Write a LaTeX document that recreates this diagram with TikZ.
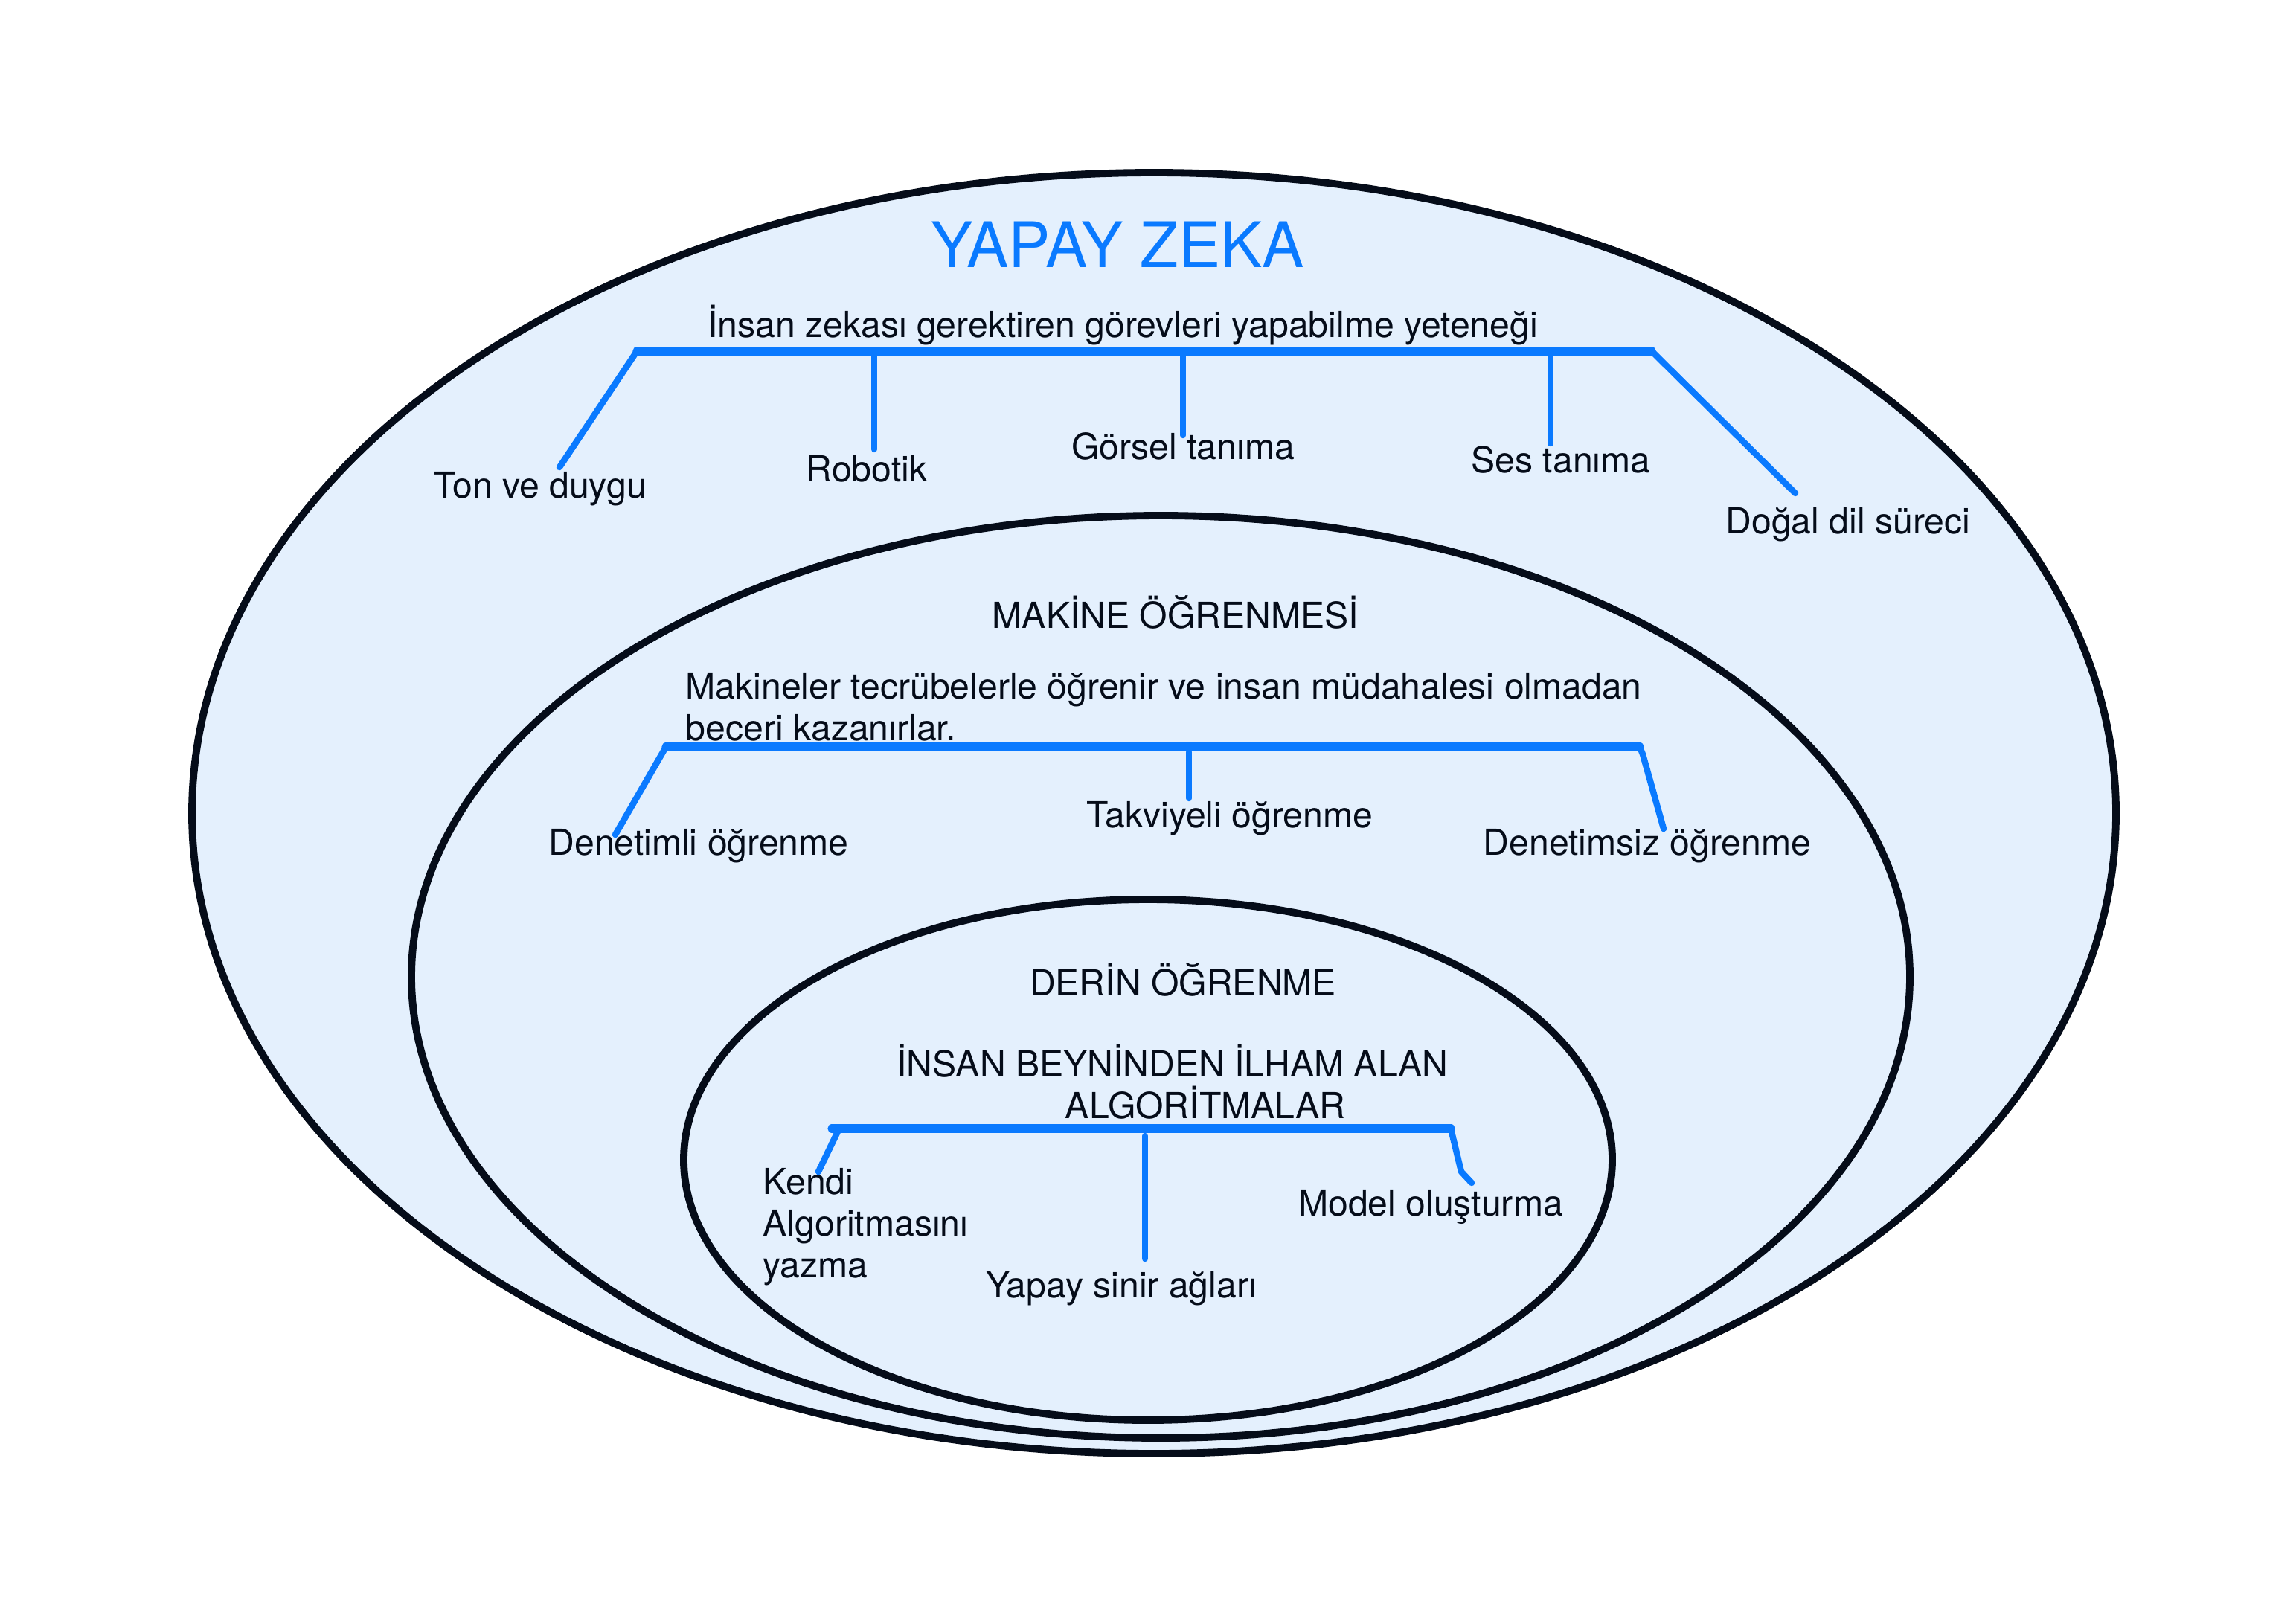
\documentclass[tikz,border=0pt]{standalone}
\usepackage{fontspec}
\setmainfont{TeX Gyre Heros}
\definecolor{zekablue}{RGB}{10,122,255}
\definecolor{zekafill}{RGB}{228,240,253}
\definecolor{zekaline}{RGB}{5,12,25}

\begin{document}
\begin{tikzpicture}[line cap=round,line join=round,
    area/.style={draw=zekaline,fill=zekafill,line width=2.8pt},
    bar/.style={draw=zekablue,line width=3.2pt},
    branch/.style={draw=zekablue,line width=2.4pt},
    label node/.style={font=\fontsize{13.7}{16}\selectfont,text=zekaline,inner sep=0pt},
    title node/.style={font=\fontsize{24}{28}\selectfont,text=zekablue,inner sep=0pt}]
                \useasboundingbox (0,0) rectangle (30.86,-21.82);

                % nested areas
                \path[area] (15.51,-10.93) ellipse [x radius=12.93cm, y radius=8.61cm];
                \path[area] (15.60,-13.13) ellipse [x radius=10.07cm, y radius=6.20cm];
                \path[area] (15.43,-15.59) ellipse [x radius=6.24cm, y radius=3.50cm];

                % yapay zeka
                \node[title node] (yz) at (15.02,-3.29) {YAPAY ZEKA};
                \node[label node] (yzdef) at (15.09,-4.37) {İnsan zekası gerektiren görevleri yapabilme yeteneği};
                \node[label node] (ton) at (7.26,-6.57) {Ton ve duygu};
                \node[label node] (robotik) at (11.65,-6.30) {Robotik};
                \node[label node] (gorsel) at (15.90,-6.00) {Görsel tanıma};
                \node[label node] (ses) at (20.98,-6.18) {Ses tanıma};
                \node[label node] (dogal) at (24.84,-7.05) {Doğal dil süreci};

                \coordinate (yzL) at (8.56,-4.72);
                \coordinate (yzR) at (22.20,-4.72);
                \coordinate (yzRob) at (11.75,-4.72);
                \coordinate (yzGor) at (15.90,-4.72);
                \coordinate (yzSes) at (20.84,-4.72);
                \coordinate (tonEnd) at (7.52,-6.28);
                \coordinate (robEnd) at (11.75,-6.04);
                \coordinate (gorEnd) at (15.90,-5.85);
                \coordinate (sesEnd) at (20.84,-5.96);
                \coordinate (dogEnd) at (24.13,-6.63);

                \draw[bar] (yzL) -- (yzR);
                \path[branch]
                    (yzL) edge (tonEnd)
                    (yzRob) edge (robEnd)
                    (yzGor) edge (gorEnd)
                    (yzSes) edge (sesEnd)
                    (yzR) edge (dogEnd)
                ;

                % makine ogrenmesi
                \node[label node] (mo) at (15.80,-8.23) {MAKİNE ÖĞRENMESİ};
                \node[label node,anchor=west,align=left] (modef) at (9.21,-9.50) {Makineler tecrübelerle öğrenir ve insan müdahalesi olmadan\\beceri kazanırlar.};
                \node[label node] (denetimli) at (9.39,-11.37) {Denetimli öğrenme};
                \node[label node] (takviyeli) at (16.53,-11.00) {Takviyeli öğrenme};
                \node[label node] (denetimsiz) at (22.14,-11.37) {Denetimsiz öğrenme};

                \coordinate (moL) at (8.95,-10.04);
                \coordinate (moR) at (22.04,-10.04);
                \coordinate (moTak) at (15.98,-10.11);
                \coordinate (denEnd) at (8.27,-11.22);
                \coordinate (takEnd) at (15.98,-10.73);
                \coordinate (dszEnd) at (22.36,-11.14);

                \draw[bar] (moL) -- (moR);
                \draw[branch] (moL) -- (denEnd);
                \draw[branch] (moTak) -- (takEnd);
                \draw[branch] (moR) -- ++(0.04,-0.10) -- (dszEnd);

                % derin ogrenme
                \node[label node] (do) at (15.90,-13.17) {DERİN ÖĞRENME};
                \node[label node,align=center] (dodef) at (15.76,-14.54) {İNSAN BEYNİNDEN İLHAM ALAN\\\hspace*{0.88cm}ALGORİTMALAR};
                \node[label node,anchor=west,align=left] (kendi) at (10.25,-16.49) {Kendi\\Algoritmasını\\yazma};
                \node[label node] (sinir) at (15.07,-17.32) {Yapay sinir ağları};
                \node[label node] (model) at (19.23,-16.22) {Model oluşturma};

                \coordinate (doL) at (11.18,-15.17);
                \coordinate (doR) at (19.50,-15.17);
                \coordinate (doSin) at (15.39,-15.27);
                \coordinate (kenEnd) at (11.00,-15.75);
                \coordinate (sinEnd) at (15.39,-16.92);
                \coordinate (modEnd) at (19.78,-15.90);

                \draw[bar] (doL) -- (doR);
                \draw[branch] (11.26,-15.21) -- (kenEnd);
                \draw[branch] (doSin) -- (sinEnd);
                \draw[branch] (doR) -- (19.64,-15.75) -- (modEnd);

            \end{tikzpicture}
\end{document}
